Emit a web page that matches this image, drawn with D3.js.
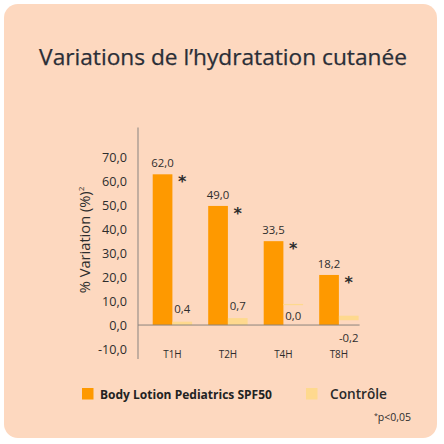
<!DOCTYPE html>
<html>
<head>
<meta charset="utf-8">
<script src="https://cdn.jsdelivr.net/npm/d3@7"></script>
<style>
  html, body { margin: 0; padding: 0; background: #ffffff; }
  svg { display: block; font-family: "Open Sans", "Noto Sans", sans-serif; font-variant-ligatures: none; }
</style>
</head>
<body>
<svg id="chart"></svg>
<script>
// values
const periods = ["T1H", "T2H", "T4H", "T8H"];
const lotionValues = [62.0, 49.0, 33.5, 18.2];   // printed labels
const lotionBars = [62.9, 49.7, 35.0, 20.9];     // drawn bar heights
const controlValues = [0.4, 0.7, 0.0, -0.2];     // printed labels
const controlBase = [0, 0, 8.3, 2.0];            // drawn bar bottoms
const controlTop = [1.4, 2.9, 8.8, 3.9];         // drawn bar tops
const yTicks = [-10, 0, 10, 20, 30, 40, 50, 60, 70];
const seriesNames = ["Body Lotion Pediatrics SPF50", "Contrôle"];

const width = 444, height = 444;
const orange = "#fe9900", light = "#fed98e", ink = "#2d2d2d";

const svg = d3.select("#chart").attr("width", width).attr("height", height);

// font size that makes a sample string as wide as in the picture
function sizeFor(str, w, weight) {
    const t = svg.append("text").attr("font-size", 10).attr("font-weight", weight || 400).text(str);
    const s = 10 * w / t.node().getComputedTextLength();
    t.remove();
    return s;
}

function fit(sel, size, w) {
    sel.attr("font-size", size);
    const got = sel.node().getComputedTextLength();
    sel.attr("font-size", size * w / got);
    return sel;
}

// card
svg.append("rect")
    .attr("x", 4).attr("y", 4)
    .attr("width", 433).attr("height", 434)
    .attr("rx", 14)
    .attr("fill", "#fdd8bf");

const title = svg.append("text")
    .attr("x", 223).attr("y", 64.5)
    .attr("text-anchor", "middle")
    .attr("fill", "#2a2e37")
    .attr("stroke", "#2a2e37").attr("stroke-width", 0.25)
    .text("Variations de l\u2019hydratation cutanée");
fit(title, 20, 368);

const comma = v => d3.format(".1f")(v).replace(".", ",").replace("−", "-");

const tickSize = sizeFor("70,0", 25);
const valueSize = sizeFor("62,0", 22.5);
const catSize = sizeFor("T1H", 18.5);

const y = d3.scaleLinear().domain([-10, 70]).range([349, 157.3]);

const x = d3.scaleBand()
    .domain(periods)
    .range([138, 373.3])
    .paddingInner(0.29)
    .paddingOuter(0.265);

const half = x.bandwidth() / 2;

// y axis: line only, labels right aligned
svg.append("line")
    .attr("x1", 138).attr("x2", 138)
    .attr("y1", 127.5).attr("y2", 359)
    .attr("stroke", "#9c928b").attr("stroke-width", 1.2);

svg.append("g").selectAll("text")
    .data(yTicks)
    .enter().append("text")
    .attr("x", 127)
    .attr("y", d => y(d) + 4.5)
    .attr("text-anchor", "end")
    .attr("font-size", tickSize)
    .attr("fill", ink)
    .text(d => comma(d));

const yTitle = svg.append("text")
    .attr("transform", "translate(90,240) rotate(-90)")
    .attr("text-anchor", "middle")
    .attr("fill", ink);
yTitle.append("tspan").text("% Variation (%)");
yTitle.append("tspan").attr("font-size", 8).attr("dy", -6).text("2");
fit(yTitle, 13.5, 107);
yTitle.select("tspan:last-child").attr("font-size", 8);

// bars
const groups = svg.append("g").selectAll("g")
    .data(periods)
    .enter().append("g");

groups.append("rect")
    .attr("x", d => x(d))
    .attr("y", (d, i) => y(lotionBars[i]))
    .attr("width", half)
    .attr("height", (d, i) => y(0) - y(lotionBars[i]))
    .attr("fill", orange);

groups.append("rect")
    .attr("x", d => x(d) + half)
    .attr("y", (d, i) => y(controlTop[i]))
    .attr("width", half)
    .attr("height", (d, i) => y(controlBase[i]) - y(controlTop[i]))
    .attr("fill", light);

// value labels
groups.append("text")
    .attr("x", d => x(d) + half / 2)
    .attr("y", (d, i) => y(lotionBars[i]) - 7)
    .attr("text-anchor", "middle")
    .attr("font-size", valueSize)
    .attr("fill", ink)
    .text((d, i) => comma(lotionValues[i]));

groups.append("text")
    .attr("x", d => x(d) + half * 1.5)
    .attr("y", (d, i) => {
        const v = controlValues[i];
        if (v < 0) return y(0) + 16.5;
        if (v === 0) return y(controlBase[i]) + 14.5;
        return y(controlTop[i]) - 8.5;
    })
    .attr("text-anchor", "middle")
    .attr("font-size", valueSize)
    .attr("fill", ink)
    .text((d, i) => comma(controlValues[i]));

// significance stars
groups.append("text")
    .attr("x", d => x(d) + half * 1.5)
    .attr("y", (d, i) => y(lotionBars[i]) + 13)
    .attr("text-anchor", "middle")
    .attr("font-size", 16)
    .attr("font-weight", "bold")
    .attr("font-family", "DejaVu Sans")
    .attr("fill", ink)
    .text("*");

// baseline
svg.append("line")
    .attr("x1", 138)
    .attr("x2", x(periods[periods.length - 1]) + x.bandwidth() + 1)
    .attr("y1", y(0)).attr("y2", y(0))
    .attr("stroke", "#8c837d").attr("stroke-width", 1);

// x labels
svg.append("g").selectAll("text")
    .data(periods)
    .enter().append("text")
    .attr("x", d => x(d) + half)
    .attr("y", 357.5)
    .attr("text-anchor", "middle")
    .attr("font-size", catSize)
    .attr("fill", ink)
    .text(d => d);

// legend
svg.append("rect").attr("x", 82).attr("y", 388).attr("width", 11.5).attr("height", 11.5).attr("fill", orange);
fit(svg.append("text")
    .attr("x", 100).attr("y", 398.5)
    .attr("font-weight", "bold")
    .attr("fill", "#222")
    .text(seriesNames[0]), 12, 172);

svg.append("rect").attr("x", 306).attr("y", 388).attr("width", 11.5).attr("height", 11.5).attr("fill", light);
fit(svg.append("text")
    .attr("x", 330).attr("y", 399)
    .attr("font-weight", 600)
    .attr("fill", "#2a2a2a")
    .text(seriesNames[1]), 13, 57);

const note = svg.append("text")
    .attr("x", 411).attr("y", 420.5)
    .attr("text-anchor", "end")
    .attr("fill", ink);
note.append("tspan").attr("font-size", 7).attr("dy", -3).text("*");
note.append("tspan").attr("font-size", 10.5).attr("dy", 3).text("p<0,05");
</script>
</body>
</html>
